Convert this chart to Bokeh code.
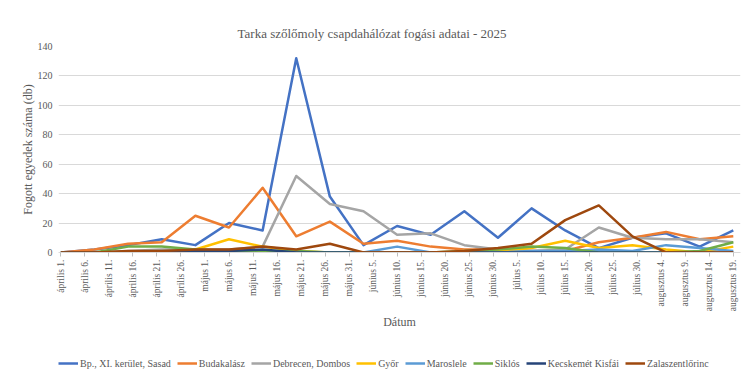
import datetime as dt
from bokeh.plotting import figure
from bokeh.models import Legend, FixedTicker
from bokeh.layouts import column
from bokeh.embed import file_html
from bokeh.resources import INLINE

# ---- data ----
dates = ["2025-04-01", "2025-04-08", "2025-04-15", "2025-04-22", "2025-04-29",
         "2025-05-06", "2025-05-13", "2025-05-20", "2025-05-27", "2025-06-03",
         "2025-06-10", "2025-06-17", "2025-06-24", "2025-07-01", "2025-07-08",
         "2025-07-15", "2025-07-22", "2025-07-29", "2025-08-05", "2025-08-12",
         "2025-08-19"]

sasad = [0, 2, 5, 9, 5, 20, 15, 132, 38, 5, 18, 12, 28, 10, 30, 15, 3, 10, 13, 4, 15]
budakalasz = [0, 2, 6, 7, 25, 17, 44, 11, 21, 6, 8, 4, 2, 2, 1, 1, 7, 10, 14, 9, 11]
debrecen = [0, 0, 1, 2, 2, 2, 4, 52, 33, 28, 12, 13, 5, 2, 1, 2, 17, 10, 9, 9, 7]
gyor = [0, 0, 0, 0, 2, 9, 4, 1, 0, 0, 0, 0, 0, 1, 3, 8, 3, 5, 2, 0, 4]
maroslele = [0, 0, 0, 0, 0, 0, 1, 0, 0, 0, 4, 0, 0, 0, 1, 1, 2, 1, 5, 3, 1]
siklos = [0, 0, 4, 4, 2, 1, 1, 1, 0, 0, 0, 0, 1, 2, 4, 3, 0, 0, 0, 1, 7]
kecskemet = [0, 0, 0, 0, 1, 1, 2, 0, 0, 0, 0, 0, 0, 0, 0, 0, 0, 0, 0, 0, 0]
zalaszentlorinc = [0, 0, 1, 1, 2, 2, 4, 2, 6, 0, 0, 0, 1, 3, 6, 22, 32, 11, 0, 0, 0]

series_names = ["Bp., XI. kerület, Sasad", "Budakalász", "Debrecen, Dombos", "Győr",
                "Maroslele", "Siklós", "Kecskemét Kisfái", "Zalaszentlőrinc"]
series_values = [sasad, budakalasz, debrecen, gyor, maroslele, siklos, kecskemet, zalaszentlorinc]
series_colors = ["#4472C4", "#ED7D31", "#A5A5A5", "#FFC000",
                 "#5B9BD5", "#70AD47", "#264478", "#9E480E"]

tick_labels = ["április 1.", "április 6.", "április 11.", "április 16.", "április 21.", "április 26.",
               "május 1.", "május 6.", "május 11.", "május 16.", "május 21.", "május 26.", "május 31.",
               "június 5.", "június 10.", "június 15.", "június 20.", "június 25.", "június 30.",
               "július 5.", "július 10.", "július 15.", "július 20.", "július 25.", "július 30.",
               "augusztus 4.", "augusztus 9.", "augusztus 14.", "augusztus 19."]
y_ticks = [0, 20, 40, 60, 80, 100, 120, 140]

start = dt.date(2025, 4, 1)
x = [(dt.date.fromisoformat(d) - start).days for d in dates]
tick_days = [5 * i for i in range(len(tick_labels))]

SERIF = "Liberation Serif"
TXT = "#595959"

p = figure(frame_width=682, frame_height=206, output_backend="svg", toolbar_location=None,
           x_range=(-0.5, 141.5), y_range=(0, 140),
           min_border_left=58, min_border_right=1, min_border_top=46, min_border_bottom=93)

p.title.text = "Tarka szőlőmoly csapdahálózat fogási adatai - 2025"
p.title.align = "left"
p.title.offset = 179
p.title.vertical_align = "middle"
p.title.text_font = SERIF
p.title.text_font_size = "13px"
p.title.text_font_style = "normal"
p.title.text_color = TXT
p.title.standoff = 10

p.outline_line_color = None
p.xgrid.grid_line_color = None
p.ygrid.grid_line_color = "#D9D9D9"
p.ygrid.grid_line_width = 1

# y axis
p.yaxis.ticker = FixedTicker(ticks=y_ticks)
p.yaxis.axis_line_color = None
p.yaxis.major_tick_line_color = None
p.yaxis.major_tick_out = 0
p.yaxis.major_tick_in = 0
p.yaxis.minor_tick_line_color = None
p.yaxis.major_label_text_font = SERIF
p.yaxis.major_label_text_font_size = "10px"
p.yaxis.major_label_text_color = TXT
p.yaxis.major_label_standoff = 6
p.yaxis.axis_label = "Fogott egyedek száma (db)"
p.yaxis.axis_label_text_font = SERIF
p.yaxis.axis_label_text_font_size = "12px"
p.yaxis.axis_label_text_font_style = "normal"
p.yaxis.axis_label_text_color = TXT
p.yaxis.axis_label_standoff = 0

# x axis
p.xaxis.ticker = FixedTicker(ticks=tick_days)
p.xaxis.major_label_overrides = {d: lab for d, lab in zip(tick_days, tick_labels)}
p.xaxis.major_label_orientation = 1.5708
p.xaxis.axis_line_color = "#D9D9D9"
p.xaxis.major_tick_line_color = "#BFBFBF"
p.xaxis.major_tick_in = 0
p.xaxis.major_tick_out = 4
p.xaxis.minor_tick_line_color = None
p.xaxis.major_label_text_font = SERIF
p.xaxis.major_label_text_font_size = "9.5px"
p.xaxis.major_label_text_color = TXT
p.xaxis.major_label_standoff = 3
p.xaxis.axis_label = "Dátum"
p.xaxis.axis_label_text_font = SERIF
p.xaxis.axis_label_text_font_size = "12px"
p.xaxis.axis_label_text_font_style = "normal"
p.xaxis.axis_label_text_color = TXT
p.xaxis.axis_label_standoff = 1

for name, vals, col in zip(series_names, series_values, series_colors):
    p.line(x, vals, line_color=col, line_width=2.5, line_join="round")

# legend strip (separate figure below the chart; its lines fall outside its range)
pl = figure(width=741, height=36, output_backend="svg", toolbar_location=None,
            x_range=(0, 1), y_range=(-1001, -1000), min_border=0)
pl.axis.visible = False
pl.grid.grid_line_color = None
pl.outline_line_color = None
items = []
for name, vals, col in zip(series_names, series_values, series_colors):
    r = pl.line(x, vals, line_color=col, line_width=2.5)
    items.append((name, [r]))
legend = Legend(items=items, orientation="horizontal", location=(0, 11),
                label_text_font=SERIF, label_text_font_size="10px", label_text_color=TXT,
                glyph_width=20, glyph_height=10, label_standoff=2, spacing=6,
                label_height=14, border_line_color=None, background_fill_alpha=0,
                padding=0, margin=0)
pl.add_layout(legend, "center")

layout = column(p, pl, spacing=0)
open("out.html", "w").write(file_html(layout, INLINE))
